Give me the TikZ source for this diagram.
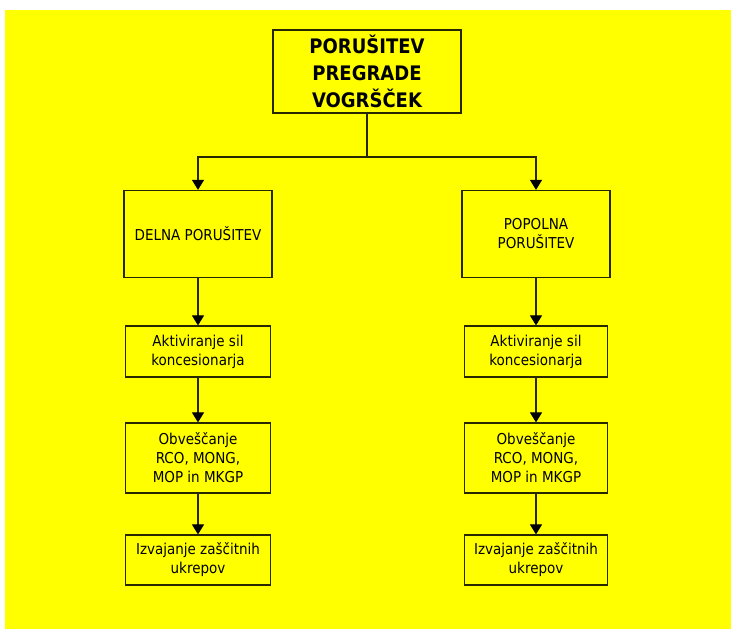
\documentclass[tikz,border=0pt]{standalone}
\usepackage{fontspec}
\setmainfont{DejaVu Sans Condensed}[BoldFont={DejaVu Sans Condensed Bold}]
\usepackage{tikz}
\usetikzlibrary{arrows.meta}

\definecolor{ozadje}{RGB}{255,255,0}
\definecolor{crta}{RGB}{40,40,0}

\begin{document}
\begin{tikzpicture}[x=1pt, y=1pt,
	okvir/.style={draw=crta, line width=1.2pt, fill=ozadje, align=center, inner sep=0pt,
		font=\fontsize{15}{19}\selectfont},
	puscica/.style={draw=crta, line width=1.1pt, -{Triangle[width=12pt,length=10pt,color=black]}}]
		\useasboundingbox (0,0) rectangle (731,-629);
		\fill[ozadje] (5,-10) rectangle (731,-629);
		%naslov
		\node[okvir, minimum width=188pt, minimum height=83pt,
			font=\bfseries\fontsize{20}{27}\selectfont] (vrh) at (367,-71.5) {PORUŠITEV\\PREGRADE\\VOGRŠČEK};
		\coordinate (razcep) at (367,-157);
		%leva veja
		\node[okvir, minimum width=148pt, minimum height=87pt] (delna) at (198,-234) {DELNA PORUŠITEV};
		\node[okvir, minimum width=145pt, minimum height=51pt] (akt1) at (198,-351.5) {Aktiviranje sil\\koncesionarja};
		\node[okvir, minimum width=145pt, minimum height=70pt] (obv1) at (198,-458) {Obveščanje\\RCO, MONG,\\MOP in MKGP};
		\node[okvir, minimum width=145pt, minimum height=50pt] (izv1) at (198,-560) {Izvajanje zaščitnih\\ukrepov};
		%desna veja
		\node[okvir, minimum width=148pt, minimum height=87pt] (popolna) at (536,-234) {POPOLNA\\PORUŠITEV};
		\node[okvir, minimum width=143pt, minimum height=51pt] (akt2) at (536,-351.5) {Aktiviranje sil\\koncesionarja};
		\node[okvir, minimum width=143pt, minimum height=70pt] (obv2) at (536,-458) {Obveščanje\\RCO, MONG,\\MOP in MKGP};
		\node[okvir, minimum width=143pt, minimum height=50pt] (izv2) at (536,-560) {Izvajanje zaščitnih\\ukrepov};
		%povezave
		\draw[draw=crta, line width=1.1pt] (vrh) -- (razcep);
		\draw[puscica] (razcep) -| (delna);
		\draw[puscica] (razcep) -| (popolna);
		\draw[puscica] (delna) -- (akt1);
		\draw[puscica] (akt1) -- (obv1);
		\draw[puscica] (obv1) -- (izv1);
		\draw[puscica] (popolna) -- (akt2);
		\draw[puscica] (akt2) -- (obv2);
		\draw[puscica] (obv2) -- (izv2);
	\end{tikzpicture}
\end{document}
